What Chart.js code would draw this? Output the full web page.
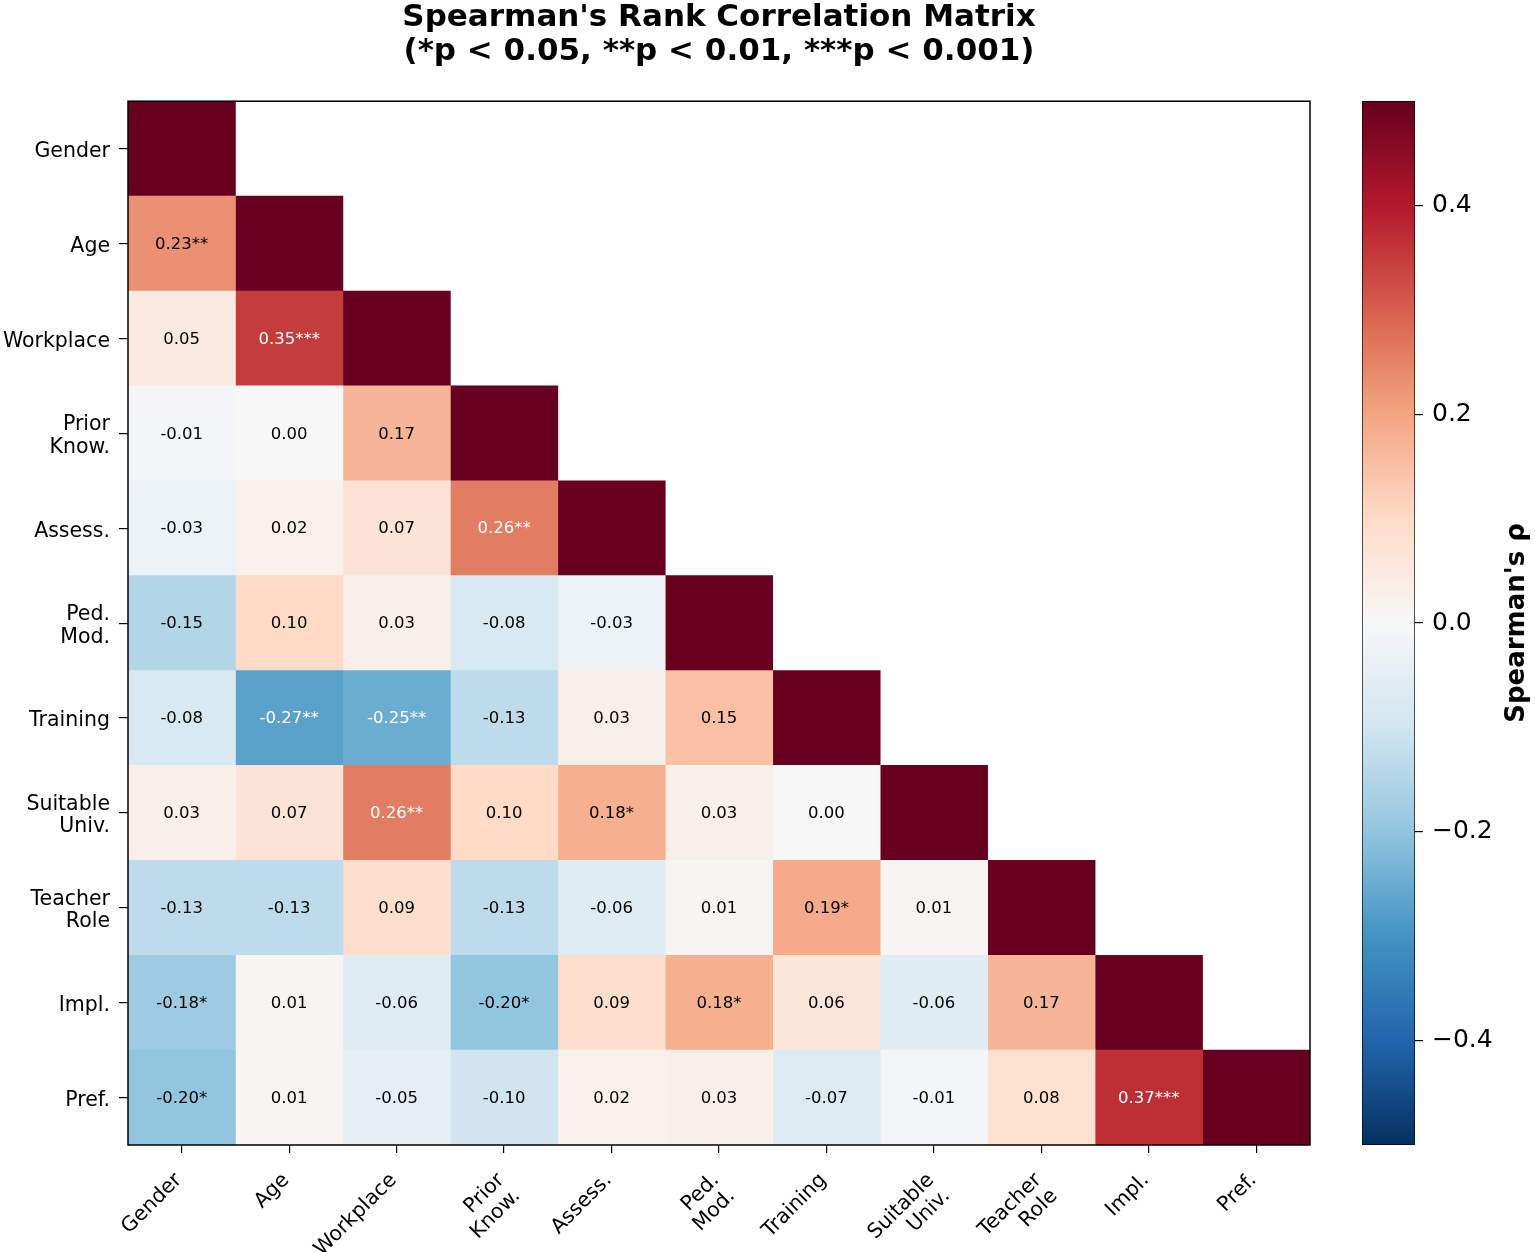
<!DOCTYPE html>
<html>
<head>
<meta charset="utf-8">
<script src="https://cdn.jsdelivr.net/npm/chart.js@4.4.1/dist/chart.umd.min.js"></script>
<style>
  body { margin: 0; background: #fff; }
  #wrap { position: relative; width: 1535px; height: 1252px; }
  #heat { position: absolute; left: 0; top: 0; }
  #cbar { position: absolute; left: 1340px; top: 0; }
</style>
</head>
<body>
<div id="wrap">
  <canvas id="heat" width="1535" height="1252"></canvas>
  <canvas id="cbar" width="195" height="1252"></canvas>
</div>
<script>
// Variables (rows and columns of the matrix)
const variables = ['Gender', 'Age', 'Workplace', ['Prior', 'Know.'], 'Assess.', ['Ped.', 'Mod.'],
  'Training', ['Suitable', 'Univ.'], ['Teacher', 'Role'], 'Impl.', 'Pref.'];

// Lower triangle of Spearman's rho, diagonal included
const rho = [
  [1.00],
  [0.23, 1.00],
  [0.05, 0.35, 1.00],
  [-0.01, 0.00, 0.17, 1.00],
  [-0.03, 0.02, 0.07, 0.26, 1.00],
  [-0.15, 0.10, 0.03, -0.08, -0.03, 1.00],
  [-0.08, -0.27, -0.25, -0.13, 0.03, 0.15, 1.00],
  [0.03, 0.07, 0.26, 0.10, 0.18, 0.03, 0.00, 1.00],
  [-0.13, -0.13, 0.09, -0.13, -0.06, 0.01, 0.19, 0.01, 1.00],
  [-0.18, 0.01, -0.06, -0.20, 0.09, 0.18, 0.06, -0.06, 0.17, 1.00],
  [-0.20, 0.01, -0.05, -0.10, 0.02, 0.03, -0.07, -0.01, 0.08, 0.37, 1.00]
];

// Significance marks, same shape as rho
const stars = [
  [''],
  ['**', ''],
  ['', '***', ''],
  ['', '', '', ''],
  ['', '', '', '**', ''],
  ['', '', '', '', '', ''],
  ['', '**', '**', '', '', '', ''],
  ['', '', '**', '', '*', '', '', ''],
  ['', '', '', '', '', '', '*', '', ''],
  ['*', '', '', '*', '', '*', '', '', '', ''],
  ['*', '', '', '', '', '', '', '', '', '***', '']
];

// Colour scale
const vmin = -0.5;
const vmax = 0.5;
const colorbarTicks = [-0.4, -0.2, 0.0, 0.2, 0.4];
const rdbuR = ['#053061', '#2166ac', '#4393c3', '#92c5de', '#d1e5f0', '#f7f7f7',
  '#fddbc7', '#f4a582', '#d6604d', '#b2182b', '#67001f'];

const FONT = '"DejaVu Sans", sans-serif';

function hexRgb(h) {
  return [parseInt(h.slice(1, 3), 16), parseInt(h.slice(3, 5), 16), parseInt(h.slice(5, 7), 16)];
}

function cmap(v) {
  let t = (v - vmin) / (vmax - vmin);
  t = Math.min(1, Math.max(0, t));
  const pos = t * (rdbuR.length - 1);
  const i = Math.min(Math.floor(pos), rdbuR.length - 2);
  const f = pos - i;
  const a = hexRgb(rdbuR[i]), b = hexRgb(rdbuR[i + 1]);
  const c = a.map((x, k) => Math.round(x + (b[k] - x) * f));
  return 'rgb(' + c.join(',') + ')';
}

// one dataset per column, floating bars span [j, j+1]
const datasets = variables.map((_, j) => ({
  data: variables.map((_, i) => (i >= j ? [j, j + 1] : null)),
  backgroundColor: variables.map((_, i) => (i >= j ? cmap(rho[i][j]) : 'rgba(0,0,0,0)')),
  borderWidth: 0,
  grouped: false,
  barPercentage: 1,
  categoryPercentage: 1
}));

// writes values into cells and draws the frame
const cellText = {
  id: 'cellText',
  afterDatasetsDraw(chart) {
    const {ctx, chartArea: a} = chart;
    const x = chart.scales.x, y = chart.scales.y;
    ctx.save();
    ctx.font = '16.5px ' + FONT;
    ctx.textAlign = 'center';
    ctx.textBaseline = 'middle';
    rho.forEach((row, i) => row.forEach((v, j) => {
      if (i === j) return;
      ctx.fillStyle = Math.abs(v) >= 0.245 ? '#fff' : '#000';
      ctx.fillText(v.toFixed(2) + stars[i][j], x.getPixelForValue(j + 0.5), y.getPixelForValue(i) + 1);
    }));
    ctx.strokeStyle = '#000';
    ctx.lineWidth = 1.5;
    ctx.strokeRect(a.left, a.top, a.right - a.left, a.bottom - a.top);
    ctx.restore();
  }
};

const heatChart = new Chart(document.getElementById('heat'), {
  type: 'bar',
  data: { labels: variables, datasets: datasets },
  options: {
    indexAxis: 'y',
    responsive: false,
    animation: false,
    devicePixelRatio: 1,
    layout: { padding: { left: 0, right: 225, top: 0, bottom: 0 } },
    scales: {
      x: { type: 'linear', min: 0, max: variables.length, display: false },
      xl: {
        type: 'category',
        labels: variables,
        position: 'bottom',
        offset: true,
        grid: { drawOnChartArea: false, offset: false, tickLength: 8, color: '#000', lineWidth: 1.2 },
        border: { display: false },
        ticks: {
          minRotation: 45, maxRotation: 45, color: '#000', padding: 16, labelOffset: -3,
          font: { family: FONT, size: 20.5, lineHeight: 1.1 }
        },
        afterFit: s => { s.height = 107; }
      },
      y: {
        type: 'category',
        offset: true,
        grid: { drawOnChartArea: false, offset: false, tickLength: 9, color: '#000', lineWidth: 1.2 },
        border: { display: false },
        ticks: {
          color: '#000', padding: 9, labelOffset: 3,
          font: { family: FONT, size: 20.5, lineHeight: 1.1 }
        },
        afterFit: s => { s.width = 128; }
      }
    },
    plugins: {
      legend: { display: false },
      tooltip: { enabled: false },
      title: {
        display: true,
        fullSize: false,
        text: ["Spearman's Rank Correlation Matrix", '(*p < 0.05, **p < 0.01, ***p < 0.001)'],
        color: '#000',
        font: { family: FONT, size: 31, weight: 'bold', lineHeight: 1.1 },
        padding: { top: 1, bottom: 32 }
      }
    }
  },
  plugins: [cellText]
});

// Colorbar
const cbLabel = {
  id: 'cbLabel',
  afterDraw(chart) {
    const {ctx, chartArea: a} = chart;
    ctx.save();
    ctx.translate(177, (a.top + a.bottom) / 2);
    ctx.rotate(-Math.PI / 2);
    ctx.font = 'bold 26px ' + FONT;
    ctx.fillStyle = '#000';
    ctx.textAlign = 'center';
    ctx.textBaseline = 'middle';
    ctx.fillText("Spearman's \u03c1", 0, 0);
    ctx.restore();
  }
};

const cbChart = new Chart(document.getElementById('cbar'), {
  type: 'bar',
  data: {
    labels: [''],
    datasets: [{
      data: [[vmin, vmax]],
      backgroundColor: context => {
        const a = context.chart.chartArea;
        if (!a) return null;
        const g = context.chart.ctx.createLinearGradient(0, a.bottom, 0, a.top);
        rdbuR.forEach((c, k) => g.addColorStop(k / (rdbuR.length - 1), c));
        return g;
      },
      borderColor: '#000',
      borderWidth: 1,
      borderSkipped: false,
      barPercentage: 1,
      categoryPercentage: 1
    }]
  },
  options: {
    responsive: false,
    animation: false,
    devicePixelRatio: 1,
    layout: { padding: { left: 22, right: 0, top: 101, bottom: 107 } },
    scales: {
      x: { display: false },
      y: {
        min: vmin,
        max: vmax,
        position: 'right',
        afterBuildTicks: s => { s.ticks = colorbarTicks.map(v => ({ value: v })); },
        grid: { drawOnChartArea: false, tickLength: 8, color: '#000', lineWidth: 1.2 },
        border: { display: false },
        ticks: {
          color: '#000',
          font: { family: FONT, size: 25 },
          padding: 9,
          callback: v => (v < 0 ? '\u2212' : '') + Math.abs(v).toFixed(1)
        },
        afterFit: s => { s.width = 120; }
      }
    },
    plugins: { legend: { display: false }, tooltip: { enabled: false } }
  },
  plugins: [cbLabel]
});
</script>
</body>
</html>
